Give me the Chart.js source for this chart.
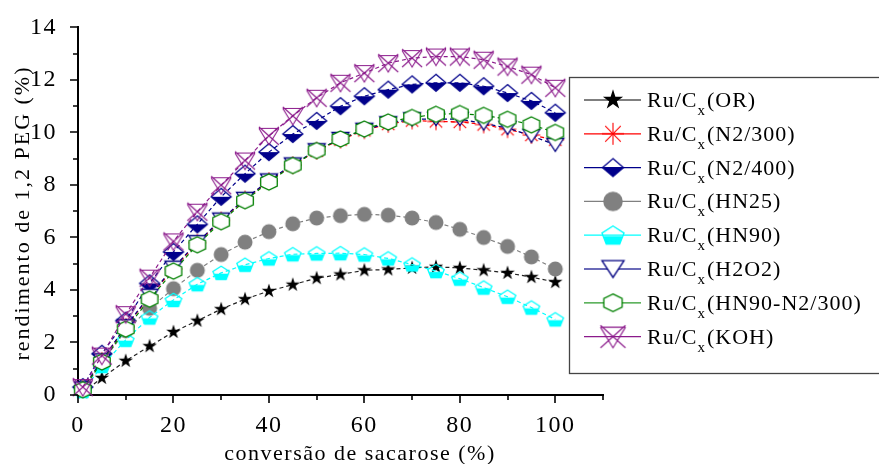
<!DOCTYPE html>
<html>
<head>
<meta charset="utf-8">
<script src="https://cdn.jsdelivr.net/npm/chart.js@4.4.1/dist/chart.umd.min.js"></script>
<style>
  html, body { margin: 0; padding: 0; background: #fff; }
  #wrap { width: 879px; height: 464px; }
</style>
</head>
<body>
<div id="wrap"><canvas id="grafico" width="879" height="464"></canvas></div>
<script>
// dados
const conversao = [1, 5, 10, 15, 20, 25, 30, 35, 40, 45, 50, 55, 60, 65, 70, 75, 80, 85, 90, 95, 100];

const rendOR     = [0.1, 0.65, 1.3, 1.86, 2.4, 2.83, 3.27, 3.65, 3.96, 4.2, 4.45, 4.59, 4.75, 4.78, 4.84, 4.88, 4.84, 4.75, 4.65, 4.49, 4.3];
const rendN2300  = [0.25, 1.3, 2.6, 3.75, 4.8, 5.8, 6.65, 7.45, 8.15, 8.75, 9.3, 9.72, 10.08, 10.32, 10.45, 10.42, 10.4, 10.3, 10.12, 9.9, 9.72];
const rendN2400  = [0.3, 1.57, 2.83, 4.25, 5.45, 6.5, 7.55, 8.43, 9.25, 9.94, 10.44, 11.0, 11.38, 11.63, 11.83, 11.89, 11.89, 11.76, 11.5, 11.2, 10.75];
const rendHN25   = [0.2, 1.25, 2.45, 3.3, 4.05, 4.75, 5.35, 5.82, 6.22, 6.52, 6.74, 6.83, 6.88, 6.85, 6.74, 6.57, 6.31, 6.0, 5.66, 5.26, 4.8];
const rendHN90   = [0.15, 1.1, 2.1, 2.95, 3.62, 4.22, 4.65, 4.96, 5.2, 5.36, 5.39, 5.4, 5.35, 5.2, 4.97, 4.72, 4.43, 4.09, 3.74, 3.33, 2.88];
const rendH2O2   = [0.25, 1.32, 2.62, 3.78, 4.85, 5.82, 6.68, 7.47, 8.17, 8.78, 9.32, 9.75, 10.1, 10.35, 10.5, 10.51, 10.51, 10.34, 10.17, 9.87, 9.53];
const rendHN90N2 = [0.2, 1.26, 2.51, 3.65, 4.72, 5.72, 6.6, 7.4, 8.11, 8.74, 9.31, 9.75, 10.13, 10.4, 10.57, 10.69, 10.72, 10.65, 10.5, 10.29, 10.0];
const rendKOH    = [0.3, 1.5, 3.08, 4.47, 5.85, 6.98, 7.99, 8.93, 9.87, 10.63, 11.32, 11.89, 12.26, 12.64, 12.83, 12.89, 12.89, 12.77, 12.51, 12.2, 11.7];

const nomesSeries = ['OR', 'N2/300', 'N2/400', 'HN25', 'HN90', 'H2O2', 'HN90-N2/300', 'KOH'];
const xTickLabels = [0, 20, 40, 60, 80, 100];
const yTickLabels = [0, 2, 4, 6, 8, 10, 12, 14];

const FONTE = '"Liberation Serif", "Times New Roman", serif';

// =================================================================
// MARCADORES (desenhados em canvas pequenos)
// =================================================================

function makeMarker(size, draw) {
    const c = document.createElement('canvas');
    c.width = size; c.height = size;
    const g = c.getContext('2d');
    g.translate(size / 2, size / 2);
    draw(g);
    return c;
}

function poly(g, pts) {
    g.beginPath();
    pts.forEach((p, i) => i ? g.lineTo(p[0], p[1]) : g.moveTo(p[0], p[1]));
    g.closePath();
}

const marcadores = {
    estrela: s => makeMarker(Math.ceil(24 * s), g => {
        const pts = [];
        for (let i = 0; i < 10; i++) {
            const r = i % 2 ? 2.9 * s : 7.6 * s;
            const a = -Math.PI / 2 + i * Math.PI / 5;
            pts.push([r * Math.cos(a), r * Math.sin(a)]);
        }
        poly(g, pts);
        g.fillStyle = '#000';
        g.fill();
    }),
    asterisco: s => makeMarker(Math.ceil(24 * s), g => {
        g.strokeStyle = '#ff0000';
        g.lineWidth = 1.1;
        for (let k = 0; k < 4; k++) {
            const a = k * Math.PI / 4, r = 8.8 * s;
            g.beginPath();
            g.moveTo(-r * Math.cos(a), -r * Math.sin(a));
            g.lineTo(r * Math.cos(a), r * Math.sin(a));
            g.stroke();
        }
    }),
    losango: s => makeMarker(Math.ceil(26 * s), g => {
        const w = 10 * s, h = 8.5 * s;
        g.fillStyle = '#00008b';
        poly(g, [[-w, 0], [w, 0], [0, h]]);
        g.fill();
        poly(g, [[0, -h], [w, 0], [0, h], [-w, 0]]);
        g.strokeStyle = '#00008b';
        g.lineWidth = 1.3;
        g.stroke();
    }),
    circulo: s => makeMarker(Math.ceil(20 * s), g => {
        g.beginPath();
        g.arc(0, 0, 7.5 * s, 0, Math.PI * 2);
        g.fillStyle = '#808080';
        g.fill();
    }),
    pentagono: s => makeMarker(Math.ceil(22 * s), g => {
        const pts = [[0, -6.8], [8.2, -1.6], [5, 6.6], [-5, 6.6], [-8.2, -1.6]].map(p => [p[0] * s, p[1] * s]);
        g.fillStyle = '#00ffff';
        poly(g, [[-7.2 * s, 0.8 * s], [7.2 * s, 0.8 * s], [5 * s, 6.6 * s], [-5 * s, 6.6 * s]]);
        g.fill();
        poly(g, pts);
        g.strokeStyle = '#00ffff';
        g.lineWidth = 1.3;
        g.stroke();
    }),
    triangulo: s => makeMarker(Math.ceil(22 * s), g => {
        poly(g, [[-8.5 * s, -6.5 * s], [8.5 * s, -6.5 * s], [0, 6.5 * s]]);
        g.fillStyle = '#fff';
        g.fill();
        g.strokeStyle = '#000080';
        g.lineWidth = 1.3;
        g.stroke();
    }),
    hexagono: s => makeMarker(Math.ceil(22 * s), g => {
        const w = 8.3 * s, h = 8 * s;
        poly(g, [[0, -h], [w, -h / 2], [w, h / 2], [0, h], [-w, h / 2], [-w, -h / 2]]);
        g.fillStyle = '#fff';
        g.fill();
        g.strokeStyle = '#008000';
        g.lineWidth = 1.3;
        g.stroke();
    }),
    koh: s => makeMarker(Math.ceil(26 * s), g => {
        const w = 10 * s, h = 9 * s;
        g.strokeStyle = '#8b1a8b';
        g.lineWidth = 1.1;
        g.beginPath();
        g.moveTo(-w, -h); g.lineTo(w, h);
        g.moveTo(w, -h); g.lineTo(-w, h);
        g.moveTo(-w, -h + 1.5 * s); g.lineTo(0, h); g.lineTo(w, -h + 1.5 * s);
        g.moveTo(-w, -h + 1.5 * s); g.lineTo(w, -h + 1.5 * s);
        g.stroke();
    })
};

// =================================================================
// SÉRIES
// =================================================================

const series = [
    { dados: rendOR,     cor: '#222',    corLegenda: '#555',    m: 'estrela',   esc: 1.4 },
    { dados: rendN2300,  cor: '#ff0000', corLegenda: '#ff0000', m: 'asterisco', esc: 1.25 },
    { dados: rendN2400,  cor: '#00008b', corLegenda: '#00008b', m: 'losango',   esc: 1.05 },
    { dados: rendHN25,   cor: '#808080', corLegenda: '#808080', m: 'circulo',   esc: 1.3 },
    { dados: rendHN90,   cor: '#00ffff', corLegenda: '#00ffff', m: 'pentagono', esc: 1.35 },
    { dados: rendH2O2,   cor: '#000080', corLegenda: '#3a3aa0', m: 'triangulo', esc: 1.3 },
    { dados: rendHN90N2, cor: '#008000', corLegenda: '#2a9a2a', m: 'hexagono',  esc: 1.1 },
    { dados: rendKOH,    cor: '#8b1a8b', corLegenda: '#8b1a8b', m: 'koh',       esc: 1.25 }
];

const datasets = series.map((s, i) => ({
    label: 'Ru/Cx(' + nomesSeries[i] + ')',
    data: conversao.map((x, k) => ({ x: x, y: s.dados[k] })),
    borderColor: s.cor,
    borderWidth: 1.2,
    borderDash: [4, 3],
    pointStyle: marcadores[s.m](1),
    pointRadius: 8,
    fill: false,
    tension: 0,
    clip: false,
    order: series.length - i
}));

const legendaMarcadores = series.map(s => marcadores[s.m](s.esc));

// =================================================================
// PLUGINS: ticks, títulos dos eixos, legenda
// =================================================================

const eixosPlugin = {
    id: 'eixos',
    beforeDraw(chart) {
        chart.ctx.letterSpacing = '1.5px';
    },
    afterDraw(chart) {
        const ctx = chart.ctx;
        const xs = chart.scales.x, ys = chart.scales.y;
        const area = chart.chartArea;
        ctx.save();
        ctx.strokeStyle = '#000';
        ctx.lineWidth = 1.6;
        ctx.beginPath();
        for (let v = 0; v <= 110; v += 10) {
            const px = Math.round(xs.getPixelForValue(v));
            ctx.moveTo(px, area.bottom);
            ctx.lineTo(px, area.bottom + (v % 20 === 0 ? 8 : 5));
        }
        for (let v = 0; v <= 14; v += 1) {
            const py = Math.round(ys.getPixelForValue(v));
            ctx.moveTo(area.left, py);
            ctx.lineTo(area.left - (v % 2 === 0 ? 8 : 5), py);
        }
        ctx.stroke();

        ctx.fillStyle = '#000';
        ctx.font = '22px ' + FONTE;
        ctx.textBaseline = 'alphabetic';
        ctx.textAlign = 'center';
        ctx.letterSpacing = '1.5px';
        ctx.fillText('conversão de sacarose (%)', 360, 460);

        ctx.save();
        ctx.translate(29, 213);
        ctx.rotate(-Math.PI / 2);
        ctx.letterSpacing = '2px';
        ctx.fillText('rendimento de 1,2 PEG (%)', 0, 0);
        ctx.restore();

        // legenda
        ctx.fillStyle = '#fff';
        ctx.fillRect(569, 77, 330, 296);
        ctx.strokeStyle = '#444';
        ctx.lineWidth = 1.3;
        ctx.strokeRect(569.5, 77.5, 330, 296);
        ctx.textAlign = 'left';
        ctx.letterSpacing = '1px';
        series.forEach((s, i) => {
            const y = 100 + i * 33.8;
            ctx.setLineDash([]);
            ctx.strokeStyle = s.corLegenda;
            ctx.lineWidth = 1.3;
            ctx.beginPath();
            ctx.moveTo(584, y);
            ctx.lineTo(641, y);
            ctx.stroke();
            const m = legendaMarcadores[i];
            ctx.drawImage(m, 613 - m.width / 2, y - m.height / 2);
            ctx.fillStyle = '#000';
            ctx.font = '22px ' + FONTE;
            ctx.fillText('Ru/C', 647, y + 7);
            let x = 647 + ctx.measureText('Ru/C').width;
            ctx.font = '15px ' + FONTE;
            ctx.fillText('x', x, y + 15);
            x += ctx.measureText('x').width;
            ctx.font = '22px ' + FONTE;
            ctx.fillText('(' + nomesSeries[i] + ')', x + 1, y + 7);
        });
        ctx.restore();
        ctx.letterSpacing = '0px';
    }
};

// =================================================================
// GRÁFICO
// =================================================================

new Chart(document.getElementById('grafico'), {
    type: 'line',
    data: { datasets: datasets },
    options: {
        responsive: false,
        animation: false,
        layout: { padding: { left: 0, top: 24, right: 276, bottom: 0 } },
        plugins: { legend: { display: false }, tooltip: { enabled: false } },
        scales: {
            x: {
                type: 'linear',
                min: 0,
                max: 110,
                afterFit: s => { s.height = 69; },
                afterBuildTicks: s => { s.ticks = xTickLabels.map(v => ({ value: v })); },
                border: { display: true, color: '#000', width: 2 },
                grid: { display: false },
                ticks: {
                    autoSkip: false,
                    maxRotation: 0,
                    padding: 8,
                    color: '#000',
                    font: { family: FONTE, size: 24 }
                }
            },
            y: {
                min: 0,
                max: 14,
                afterFit: s => { s.width = 78; },
                afterBuildTicks: s => { s.ticks = yTickLabels.map(v => ({ value: v })); },
                border: { display: true, color: '#000', width: 2 },
                grid: { display: false },
                ticks: {
                    autoSkip: false,
                    padding: 13,
                    color: '#000',
                    font: { family: FONTE, size: 24 }
                }
            }
        }
    },
    plugins: [eixosPlugin]
});
</script>
</body>
</html>
